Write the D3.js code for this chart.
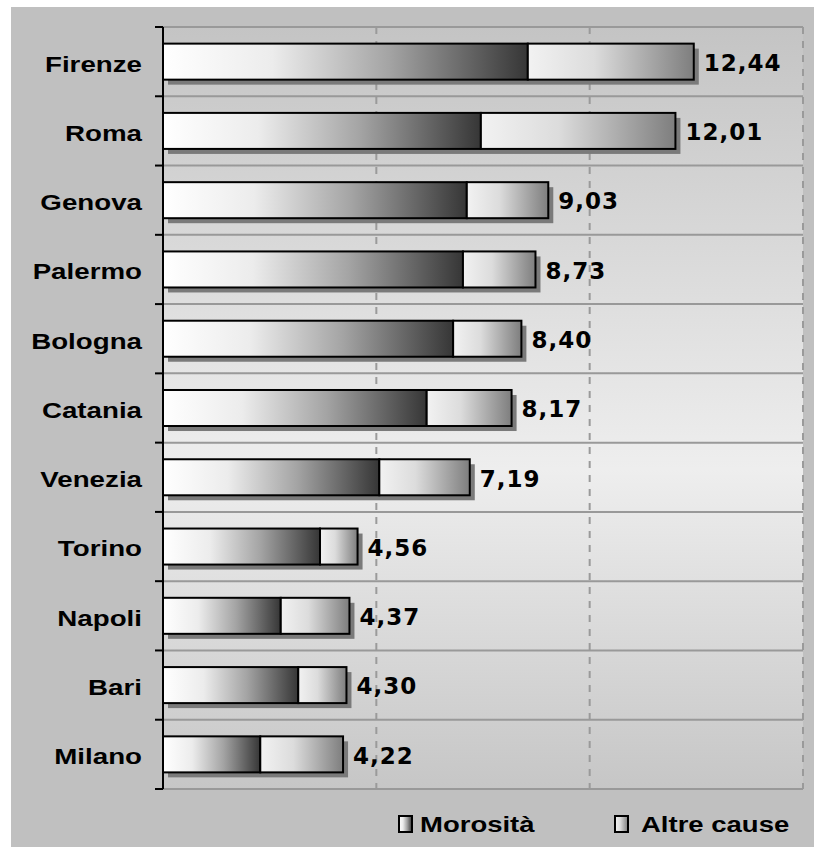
<!DOCTYPE html>
<html>
<head>
<meta charset="utf-8">
<script src="https://cdn.jsdelivr.net/npm/d3@7"></script>
<style>
  body { margin: 0; background: #fff; }
</style>
</head>
<body>
<div id="chart"></div>
<script>
// data
var cities = ["Firenze", "Roma", "Genova", "Palermo", "Bologna", "Catania", "Venezia", "Torino", "Napoli", "Bari", "Milano"];
var totals = [12.44, 12.01, 9.03, 8.73, 8.40, 8.17, 7.19, 4.56, 4.37, 4.30, 4.22];
var morosita = [8.55, 7.45, 7.12, 7.03, 6.80, 6.18, 5.07, 3.68, 2.76, 3.17, 2.28];
var seriesNames = ["Morosità", "Altre cause"];
var xTicks = [0, 5, 10, 15];

var W = 814, H = 847;
var plot = { left: 163, right: 803, top: 27, bottom: 789 };

var svg = d3.select("#chart").append("svg")
  .attr("width", W).attr("height", H);

var defs = svg.append("defs");

// plot background gradient (vertical)
var bg = defs.append("linearGradient").attr("id", "bgGrad")
  .attr("x1", 0).attr("y1", 0).attr("x2", 0).attr("y2", 1);
[[0, "#c4c4c4"], [0.58, "#eeeeee"], [1, "#c6c6c6"]].forEach(function(s) {
  bg.append("stop").attr("offset", s[0]).attr("stop-color", s[1]);
});

// bar gradients (horizontal)
var gMor = defs.append("linearGradient").attr("id", "gMor");
[[0, "#ffffff"], [0.3, "#ececec"], [0.62, "#a4a4a4"], [1, "#363636"]].forEach(function(s) {
  gMor.append("stop").attr("offset", s[0]).attr("stop-color", s[1]);
});
var gAlt = defs.append("linearGradient").attr("id", "gAlt");
[[0, "#f2f2f2"], [0.4, "#dcdcdc"], [1, "#7e7e7e"]].forEach(function(s) {
  gAlt.append("stop").attr("offset", s[0]).attr("stop-color", s[1]);
});

// outer background
svg.append("rect").attr("x", 11).attr("y", 7).attr("width", W - 11).attr("height", H - 7)
  .attr("fill", "#c0c0c0");

svg.append("rect")
  .attr("x", plot.left).attr("y", plot.top)
  .attr("width", plot.right - plot.left).attr("height", plot.bottom - plot.top)
  .attr("fill", "url(#bgGrad)");

// scales
var x = d3.scaleLinear().domain([0, 15]).range([plot.left, plot.right]);
var y = d3.scaleBand().domain(cities).range([plot.top, plot.bottom]).padding(0);
var barH = y.bandwidth() * 0.52;

// vertical dashed gridlines
svg.append("g").selectAll("line").data(xTicks.slice(1)).enter().append("line")
  .attr("x1", function(d) { return x(d); }).attr("x2", function(d) { return x(d); })
  .attr("y1", plot.top).attr("y2", plot.bottom)
  .attr("stroke", "#9a9a9a").attr("stroke-width", 2)
  .attr("stroke-dasharray", "7,7");

// horizontal gridlines at band boundaries
var bounds = cities.map(function(c) { return y(c); }).concat([plot.bottom]);
svg.append("g").selectAll("line").data(bounds).enter().append("line")
  .attr("x1", plot.left).attr("x2", plot.right)
  .attr("y1", function(d) { return d; }).attr("y2", function(d) { return d; })
  .attr("stroke", "#999").attr("stroke-width", 2);

// bars
var rows = svg.append("g").selectAll("g").data(cities).enter().append("g")
  .attr("transform", function(d) { return "translate(0," + (y(d) + (y.bandwidth() - barH) / 2) + ")"; });

// shadow
rows.append("rect")
  .attr("x", x(0) + 5).attr("y", 5)
  .attr("width", function(d, i) { return x(totals[i]) - x(0); })
  .attr("height", barH)
  .attr("fill", "#7a7a7a");

rows.append("rect")
  .attr("x", x(0))
  .attr("y", 0)
  .attr("width", function(d, i) { return x(morosita[i]) - x(0); })
  .attr("height", barH)
  .attr("fill", "url(#gMor)")
  .attr("stroke", "#000").attr("stroke-width", 2);

rows.append("rect")
  .attr("x", function(d, i) { return x(morosita[i]); })
  .attr("y", 0)
  .attr("width", function(d, i) { return x(totals[i]) - x(morosita[i]); })
  .attr("height", barH)
  .attr("fill", "url(#gAlt)")
  .attr("stroke", "#000").attr("stroke-width", 2);

// value labels
rows.append("text")
  .attr("x", function(d, i) { return x(totals[i]) + 10; })
  .attr("y", barH / 2 + 1)
  .attr("dy", "0.36em")
  .style("font-family", "'DejaVu Sans', Verdana, sans-serif")
  .style("font-weight", "bold")
  .style("font-size", "23px")
  .style("letter-spacing", "1px")
  .text(function(d, i) { return totals[i].toFixed(2).replace(".", ","); });

// left axis
svg.append("line")
  .attr("x1", plot.left).attr("x2", plot.left)
  .attr("y1", plot.top).attr("y2", plot.bottom)
  .attr("stroke", "#000").attr("stroke-width", 2);
svg.append("g").selectAll("line").data(bounds).enter().append("line")
  .attr("x1", plot.left - 8).attr("x2", plot.left)
  .attr("y1", function(d) { return d; }).attr("y2", function(d) { return d; })
  .attr("stroke", "#000").attr("stroke-width", 2);

// category labels (stretched Arial-like)
svg.append("g").selectAll("text").data(cities).enter().append("text")
  .attr("transform", function(d) { return "translate(142," + (y(d) + y.bandwidth() / 2 + 2) + ") scale(1.26,1)"; })
  .attr("text-anchor", "end")
  .attr("dy", "0.36em")
  .style("font-family", "'Liberation Sans', Arial, sans-serif")
  .style("font-weight", "bold")
  .style("font-size", "22px")
  .text(function(d) { return d; });

// legend
var legendX = [399, 615];
var legendFill = ["url(#gMor)", "url(#gAlt)"];
var leg = svg.append("g").selectAll("g").data(seriesNames).enter().append("g")
  .attr("transform", function(d, i) { return "translate(" + legendX[i] + ",816)"; });
leg.append("rect")
  .attr("x", 0).attr("y", 0).attr("width", 13).attr("height", 16)
  .attr("fill", function(d, i) { return legendFill[i]; })
  .attr("stroke", "#000").attr("stroke-width", 2);
leg.append("text")
  .attr("transform", function(d, i) { return "translate(" + (i === 0 ? 21 : 26) + ",8) scale(1.25,1)"; })
  .attr("dy", "0.36em")
  .style("font-family", "'Liberation Sans', Arial, sans-serif")
  .style("font-weight", "bold")
  .style("font-size", "22px")
  .text(function(d) { return d; });
</script>
</body>
</html>
